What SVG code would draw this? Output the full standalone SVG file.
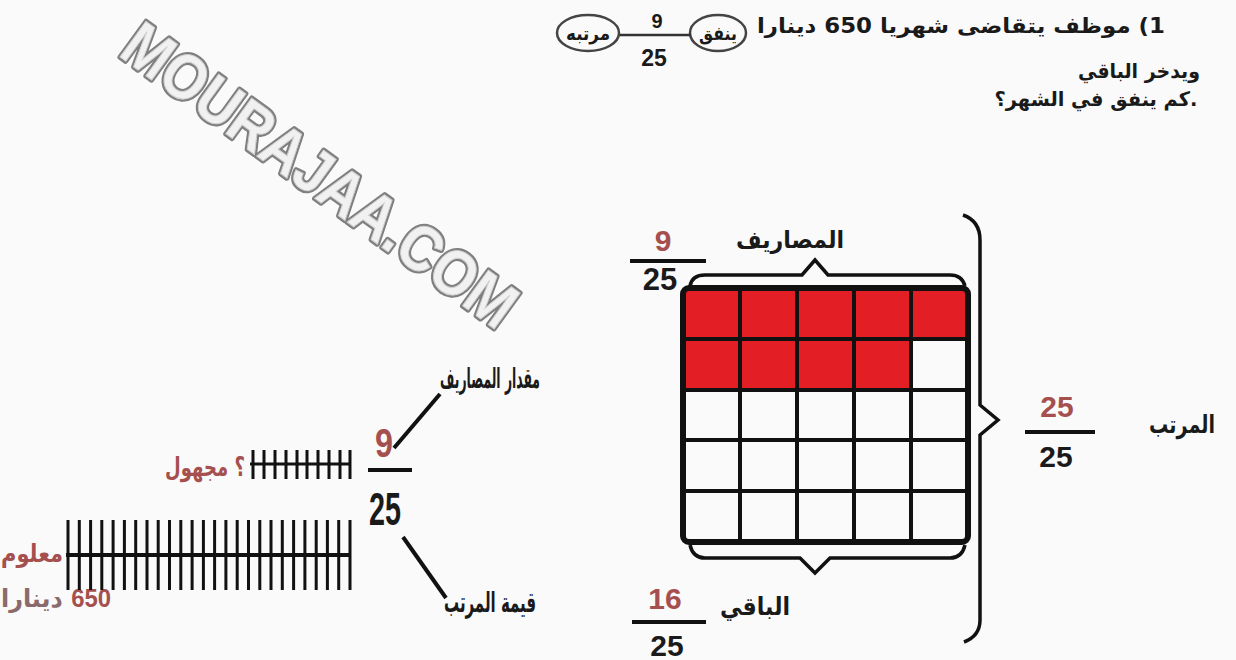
<svg xmlns="http://www.w3.org/2000/svg" width="1236" height="660" viewBox="0 0 1236 660">
<defs>
<style>
.ar{font-family:"DejaVu Sans","Noto Sans",sans-serif;font-weight:700;fill:#1a1a1a}
.num{font-family:"Liberation Sans",Arial,sans-serif;font-weight:700;fill:#1a1a1a}
.red{fill:#a5504f}
.grey{fill:#8a6a6a}
.ln{stroke:#111;stroke-width:4;fill:none;stroke-linecap:butt}
.br{stroke:#111;stroke-width:3.5;fill:none;stroke-linejoin:miter}
.tk{stroke:#111;stroke-width:3}
.cell{fill:#e31e24}
.wm1{font-family:"Liberation Sans",Arial,sans-serif;font-weight:700;fill:none;stroke:#7f7f7f;stroke-width:5.5;stroke-linejoin:round}
.wm2{font-family:"Liberation Sans",Arial,sans-serif;font-weight:700;fill:#f1f1f1;stroke:#cfcfcf;stroke-width:1}
</style>
</defs>
<rect x="0" y="0" width="1236" height="660" fill="#fafafa"/>

<g id="watermark">
<text class="wm1" x="320" y="175" font-size="64" text-anchor="middle" dominant-baseline="central" textLength="470" lengthAdjust="spacingAndGlyphs" transform="rotate(36 320 175)">MOURAJAA.COM</text>
<text class="wm2" x="320" y="175" font-size="64" text-anchor="middle" dominant-baseline="central" textLength="470" lengthAdjust="spacingAndGlyphs" transform="rotate(36 320 175)">MOURAJAA.COM</text>
</g>

<g id="problem">
<text class="ar" x="961" y="33" font-size="21" direction="rtl" text-anchor="middle" textLength="408" lengthAdjust="spacingAndGlyphs">1) موظف يتقاضى شهريا 650 دينارا</text>
<ellipse cx="718" cy="33" rx="28" ry="18" fill="none" stroke="#444" stroke-width="2.5"/>
<text class="ar" x="718" y="40" font-size="19" direction="rtl" text-anchor="middle" textLength="38" lengthAdjust="spacingAndGlyphs">ينفق</text>
<text class="num" x="657" y="28" font-size="20" text-anchor="middle">9</text>
<line x1="618" y1="35" x2="691" y2="35" stroke="#333" stroke-width="2.5"/>
<text class="num" x="654" y="66" font-size="23" text-anchor="middle">25</text>
<ellipse cx="588" cy="33" rx="31" ry="18" fill="none" stroke="#444" stroke-width="2.5"/>
<text class="ar" x="588" y="40" font-size="19" direction="rtl" text-anchor="middle" textLength="44" lengthAdjust="spacingAndGlyphs">مرتبه</text>
<text class="ar" x="1139" y="78" font-size="20" direction="rtl" text-anchor="middle" textLength="122" lengthAdjust="spacingAndGlyphs">ويدخر الباقي</text>
<text class="ar" x="1096" y="106" font-size="20" direction="rtl" text-anchor="middle" textLength="203" lengthAdjust="spacingAndGlyphs">.كم ينفق في الشهر؟</text>
</g>

<g id="grid">
<rect class="cell" x="683" y="288" width="285" height="51"/>
<rect class="cell" x="683" y="339" width="228" height="51"/>
<g stroke="#111" stroke-width="4">
<line x1="740" y1="288" x2="740" y2="542"/>
<line x1="797" y1="288" x2="797" y2="542"/>
<line x1="854" y1="288" x2="854" y2="542"/>
<line x1="911" y1="288" x2="911" y2="542"/>
<line x1="683" y1="339" x2="968" y2="339"/>
<line x1="683" y1="390" x2="968" y2="390"/>
<line x1="683" y1="440" x2="968" y2="440"/>
<line x1="683" y1="491" x2="968" y2="491"/>
</g>
<rect x="683" y="288" width="285" height="254" rx="6" fill="none" stroke="#111" stroke-width="6"/>
</g>

<g id="expenses-label">
<text class="num red" x="663" y="251" font-size="30" text-anchor="middle">9</text>
<line x1="630" y1="261" x2="706" y2="261" stroke="#111" stroke-width="4"/>
<text class="num" x="660" y="290" font-size="31" text-anchor="middle">25</text>
<text class="ar" x="790" y="248" font-size="24" direction="rtl" text-anchor="middle" textLength="108" lengthAdjust="spacingAndGlyphs">المصاريف</text>
</g>

<g id="salary-label">
<text class="num red" x="1057" y="417" font-size="30" text-anchor="middle">25</text>
<line x1="1025" y1="432" x2="1095" y2="432" stroke="#111" stroke-width="4"/>
<text class="num" x="1056" y="467" font-size="30" text-anchor="middle">25</text>
<text class="ar" x="1182" y="433" font-size="25" direction="rtl" text-anchor="middle" textLength="66" lengthAdjust="spacingAndGlyphs">المرتب</text>
</g>

<g id="rest-label">
<text class="num red" x="665" y="609" font-size="30" text-anchor="middle">16</text>
<line x1="632" y1="622" x2="706" y2="622" stroke="#111" stroke-width="4"/>
<text class="num" x="667" y="656" font-size="30" text-anchor="middle">25</text>
<text class="ar" x="755" y="615" font-size="25" direction="rtl" text-anchor="middle" textLength="70" lengthAdjust="spacingAndGlyphs">الباقي</text>
</g>

<g id="fraction-left">
<text class="num red" x="384" y="457" font-size="40" text-anchor="middle" textLength="18" lengthAdjust="spacingAndGlyphs">9</text>
<line x1="368" y1="470" x2="412" y2="470" stroke="#111" stroke-width="4"/>
<text class="num" x="385" y="525" font-size="46" text-anchor="middle" textLength="32" lengthAdjust="spacingAndGlyphs">25</text>
</g>

<g id="label-expenses-amount">
<text class="ar" x="490" y="388" font-size="28" direction="rtl" text-anchor="middle" textLength="100" lengthAdjust="spacingAndGlyphs">مقدار المصاريف</text>
</g>

<g id="label-salary-value">
<text class="ar" x="490" y="612" font-size="28" direction="rtl" text-anchor="middle" textLength="92" lengthAdjust="spacingAndGlyphs">قيمة المرتب</text>
</g>

<g id="unknown-label">
<text class="ar red" x="205" y="476" font-size="26" direction="rtl" text-anchor="middle" textLength="80" lengthAdjust="spacingAndGlyphs">؟ مجهول</text>
</g>

<g id="known-label">
<text class="ar red" x="32" y="562" font-size="25" direction="rtl" text-anchor="middle" textLength="62" lengthAdjust="spacingAndGlyphs">معلوم</text>
<text class="ar grey" x="56" y="607" font-size="25" direction="rtl" text-anchor="middle" textLength="110" lengthAdjust="spacingAndGlyphs"><tspan class="num red">650</tspan> دينارا</text>
</g>

<g id="bar-expenses">
<line class="tk" x1="250" y1="464" x2="350" y2="464"/>
<g class="tk">
<line x1="253" y1="450" x2="253" y2="479"/><line x1="264" y1="450" x2="264" y2="479"/><line x1="275" y1="450" x2="275" y2="479"/><line x1="286" y1="450" x2="286" y2="479"/><line x1="297" y1="450" x2="297" y2="479"/><line x1="307" y1="450" x2="307" y2="479"/><line x1="318" y1="450" x2="318" y2="479"/><line x1="329" y1="450" x2="329" y2="479"/><line x1="340" y1="450" x2="340" y2="479"/><line x1="350" y1="450" x2="350" y2="479"/>
</g>
</g>

<g id="bar-salary">
<line x1="66" y1="555" x2="350" y2="555" stroke="#111" stroke-width="4"/>
<g class="tk">
<line x1="68" y1="520" x2="68" y2="590"/><line x1="79.3" y1="520" x2="79.3" y2="590"/><line x1="90.6" y1="520" x2="90.6" y2="590"/><line x1="101.8" y1="520" x2="101.8" y2="590"/><line x1="113.1" y1="520" x2="113.1" y2="590"/><line x1="124.4" y1="520" x2="124.4" y2="590"/><line x1="135.7" y1="520" x2="135.7" y2="590"/><line x1="147" y1="520" x2="147" y2="590"/><line x1="158.2" y1="520" x2="158.2" y2="590"/><line x1="169.5" y1="520" x2="169.5" y2="590"/><line x1="180.8" y1="520" x2="180.8" y2="590"/><line x1="192.1" y1="520" x2="192.1" y2="590"/><line x1="203.4" y1="520" x2="203.4" y2="590"/><line x1="214.6" y1="520" x2="214.6" y2="590"/><line x1="225.9" y1="520" x2="225.9" y2="590"/><line x1="237.2" y1="520" x2="237.2" y2="590"/><line x1="248.5" y1="520" x2="248.5" y2="590"/><line x1="259.8" y1="520" x2="259.8" y2="590"/><line x1="271" y1="520" x2="271" y2="590"/><line x1="282.3" y1="520" x2="282.3" y2="590"/><line x1="293.6" y1="520" x2="293.6" y2="590"/><line x1="304.9" y1="520" x2="304.9" y2="590"/><line x1="316.2" y1="520" x2="316.2" y2="590"/><line x1="327.4" y1="520" x2="327.4" y2="590"/><line x1="338.7" y1="520" x2="338.7" y2="590"/><line x1="350" y1="520" x2="350" y2="590"/>
</g>
</g>

<g id="connectors">
<path class="br" d="M690 286 Q692 275 705 275 L802 275 L815 260 L828 275 L950 275 Q962 275 965 286"/>
<path class="br" d="M690 545 Q693 558 705 558 L800 558 L815 573 L830 558 L950 558 Q962 558 965 545"/>
<path class="br" d="M963 215 Q980 221 980 240 L980 405 L998 420 L980 435 L980 620 Q980 636 964 642"/>
<line class="ln" x1="394" y1="448" x2="440" y2="394"/>
<line class="ln" x1="403" y1="537" x2="446" y2="598"/>
</g>
</svg>
